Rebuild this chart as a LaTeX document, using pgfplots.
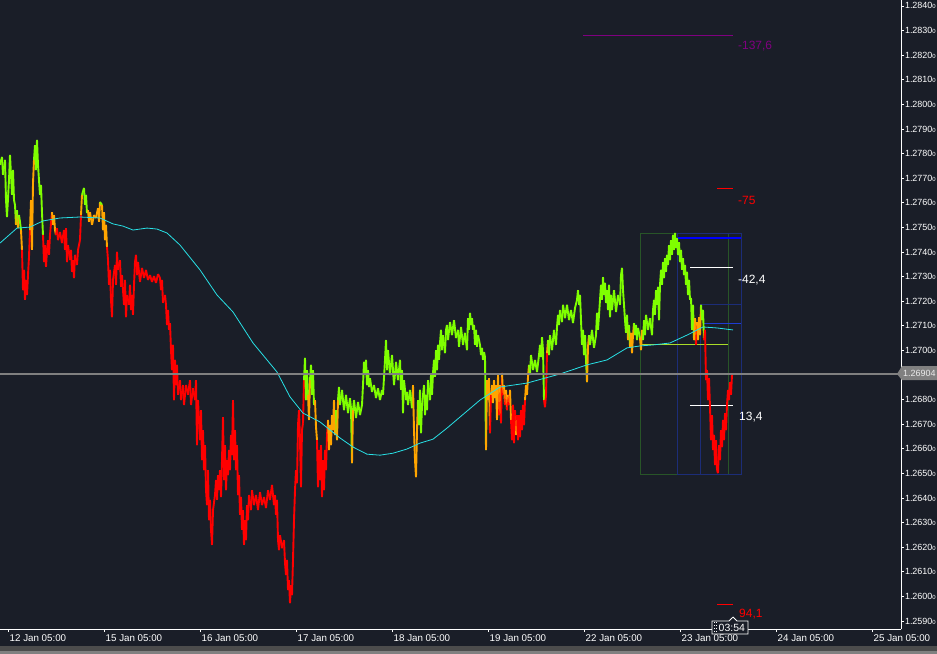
\documentclass[border=0pt]{standalone}
\usepackage{pgfplots}
\pgfplotsset{compat=1.18}
\usepackage{pgfplotstable}
\usepackage{fontspec}
\setmainfont{Liberation Sans}
\definecolor{bg}{RGB}{26,30,40}
\definecolor{mtred}{RGB}{255,0,0}
\definecolor{macyan}{RGB}{40,225,230}
\definecolor{boxgreen}{RGB}{40,85,40}
\definecolor{boxblue}{RGB}{28,45,120}
\definecolor{lineblue}{RGB}{0,0,255}
\definecolor{thinblue}{RGB}{30,60,210}
\definecolor{ygreen}{RGB}{170,220,40}
\definecolor{mtpurple}{RGB}{128,0,128}
\definecolor{pricegray}{RGB}{128,128,128}
\newcommand\pl[1]{#1{\fontsize{6}{7}\selectfont 0}}

% x = M15 bar index (1 px per bar), y = price, c = colour state (0 red, 1 orange, 2 green)
\pgfplotstableread{
x y c
0 1.27754 2
2 1.27786 2
3 1.27713 2
5 1.27774 2
6 1.27611 2
7 1.27542 2
9 1.27692 2
10 1.27794 2
11 1.27713 2
12 1.27632 2
13 1.27733 2
14 1.27611 2
15 1.27591 2
16 1.27510 1
17 1.27570 2
18 1.27497 1
19 1.27550 2
20 1.27522 2
21 1.27489 1
22 1.27408 0
23 1.27245 0
24 1.27327 0
25 1.27205 0
26 1.27286 0
27 1.27225 0
28 1.27306 0
29 1.27380 0
30 1.27489 1
31 1.27611 1
32 1.27408 1
33 1.27680 1
34 1.27774 2
35 1.27834 2
36 1.27733 2
37 1.27855 2
38 1.27754 2
39 1.27692 2
40 1.27632 2
41 1.27672 2
42 1.27558 2
43 1.27469 0
44 1.27359 0
45 1.27428 0
46 1.27339 0
47 1.27408 0
48 1.27448 0
49 1.27388 0
50 1.27469 0
52 1.27562 1
53 1.27510 1
54 1.27550 1
55 1.27489 1
56 1.27469 0
57 1.27497 0
58 1.27448 0
60 1.27481 0
62 1.27436 0
64 1.27489 0
65 1.27408 0
66 1.27497 0
67 1.27359 0
68 1.27428 0
70 1.27367 0
71 1.27408 0
72 1.27319 0
73 1.27367 0
74 1.27294 0
75 1.27388 0
77 1.27347 0
78 1.27408 0
80 1.27448 0
81 1.27550 1
82 1.27632 2
84 1.27660 2
85 1.27591 2
86 1.27632 2
87 1.27558 2
88 1.27570 1
89 1.27522 1
90 1.27562 1
92 1.27510 1
94 1.27550 1
96 1.27538 1
98 1.27578 1
99 1.27522 1
100 1.27603 2
102 1.27591 1
103 1.27489 1
104 1.27562 1
105 1.27448 1
106 1.27510 1
107 1.27420 0
108 1.27367 0
109 1.27266 0
110 1.27327 0
111 1.27205 0
112 1.27135 0
113 1.27286 0
115 1.27347 0
116 1.27266 0
117 1.27400 0
118 1.27327 0
120 1.27367 0
121 1.27258 0
122 1.27306 0
123 1.27245 0
124 1.27185 0
125 1.27286 0
126 1.27135 0
127 1.27225 0
129 1.27185 0
130 1.27266 0
131 1.27164 0
132 1.27225 0
133 1.27144 0
134 1.27266 0
135 1.27359 0
136 1.27388 0
137 1.27306 0
138 1.27359 0
140 1.27278 0
142 1.27335 0
144 1.27294 0
146 1.27327 0
148 1.27286 0
150 1.27306 0
152 1.27278 0
154 1.27302 0
156 1.27274 0
158 1.27310 0
160 1.27294 0
161 1.27245 0
162 1.27286 0
163 1.27193 0
165 1.27225 0
166 1.27185 0
167 1.27103 0
168 1.27164 0
169 1.27083 0
170 1.27111 0
171 1.27001 0
172 1.26920 0
173 1.27022 0
174 1.26798 0
175 1.26961 0
176 1.26859 0
177 1.26941 0
178 1.26819 0
180 1.26879 0
181 1.26798 0
183 1.26859 0
184 1.26778 0
186 1.26859 0
188 1.26819 0
190 1.26879 0
191 1.26778 0
193 1.26846 0
195 1.26798 0
196 1.26879 0
197 1.26615 0
198 1.26798 0
199 1.26717 0
200 1.26635 0
201 1.26757 0
202 1.26554 0
203 1.26676 0
204 1.26513 0
205 1.26615 0
206 1.26432 0
207 1.26371 0
208 1.26513 0
209 1.26310 0
210 1.26392 0
211 1.26270 0
212 1.26209 0
213 1.26351 0
215 1.26412 0
216 1.26473 0
217 1.26392 0
218 1.26493 0
219 1.26432 0
220 1.26513 0
221 1.26404 0
222 1.26554 0
223 1.26729 0
224 1.26473 0
225 1.26615 0
226 1.26432 0
227 1.26554 0
228 1.26493 0
229 1.26595 0
230 1.26513 0
231 1.26656 0
232 1.26574 0
233 1.26798 0
234 1.26554 0
235 1.26676 0
236 1.26513 0
237 1.26615 0
238 1.26412 0
239 1.26493 0
240 1.26331 0
241 1.26404 0
242 1.26270 0
243 1.26351 0
244 1.26209 0
245 1.26310 0
246 1.26229 0
247 1.26371 0
248 1.26310 0
249 1.26412 0
251 1.26351 0
252 1.26432 0
254 1.26371 0
256 1.26412 0
258 1.26351 0
260 1.26424 0
262 1.26371 0
264 1.26404 0
266 1.26359 0
268 1.26432 0
270 1.26392 0
272 1.26453 0
274 1.26371 0
275 1.26412 0
276 1.26331 0
277 1.26392 0
278 1.26229 0
279 1.26188 0
280 1.26249 0
282 1.26196 0
284 1.26229 0
285 1.26136 0
286 1.26087 0
287 1.26148 0
288 1.26026 0
289 1.26066 0
290 1.25973 0
291 1.26046 0
292 1.26005 0
293 1.26148 0
294 1.26310 0
295 1.26432 0
296 1.26513 0
297 1.26460 0
298 1.26696 0
299 1.26757 0
300 1.26635 0
301 1.26444 0
302 1.26676 0
303 1.26704 0
304 1.26879 2
305 1.26969 2
306 1.26798 2
307 1.26920 2
308 1.26819 1
309 1.26717 1
310 1.26879 2
311 1.26941 2
312 1.26819 2
313 1.26920 2
314 1.26778 2
315 1.26798 1
316 1.26688 1
317 1.26635 0
318 1.26444 0
319 1.26595 0
320 1.26473 0
321 1.26615 0
322 1.26404 0
323 1.26554 0
324 1.26432 0
325 1.26595 0
326 1.26513 0
327 1.26656 0
328 1.26717 1
329 1.26595 1
330 1.26696 1
331 1.26615 1
332 1.26737 1
333 1.26676 1
334 1.26798 1
335 1.26656 1
336 1.26757 2
337 1.26635 1
338 1.26798 2
339 1.26851 2
340 1.26778 2
342 1.26839 2
344 1.26757 2
346 1.26819 2
348 1.26745 2
350 1.26806 2
351 1.26765 2
352 1.26542 1
353 1.26757 2
354 1.26798 2
356 1.26725 2
358 1.26790 2
360 1.26737 2
362 1.26778 2
363 1.26859 2
364 1.26953 2
365 1.26900 2
366 1.26961 2
367 1.26859 2
368 1.26920 2
369 1.26851 2
370 1.26887 2
372 1.26831 2
374 1.26859 2
376 1.26806 2
378 1.26846 2
380 1.26798 2
382 1.26839 2
383 1.26819 2
385 1.26961 2
386 1.27042 2
387 1.26920 2
388 1.27001 2
390 1.26900 2
392 1.26981 2
394 1.26859 2
396 1.26953 2
398 1.26879 2
400 1.26961 2
401 1.26839 2
402 1.26920 2
403 1.26745 2
404 1.26879 2
406 1.26798 2
407 1.26831 2
408 1.26778 2
410 1.26839 2
412 1.26765 2
413 1.26859 1
414 1.26676 1
415 1.26554 1
416 1.26485 1
417 1.26676 1
418 1.26798 2
419 1.26696 2
420 1.26839 2
421 1.26664 2
422 1.26778 2
424 1.26859 2
425 1.26737 2
426 1.26819 2
427 1.26757 2
428 1.26879 2
430 1.26798 2
431 1.26900 2
432 1.26819 2
433 1.26908 2
434 1.26961 2
435 1.26892 2
436 1.27001 2
437 1.26920 2
438 1.27022 2
439 1.26961 2
440 1.27030 2
441 1.27083 2
442 1.27001 2
443 1.27062 2
445 1.26989 2
446 1.27083 2
447 1.27103 2
448 1.27042 2
450 1.27115 2
452 1.27062 2
454 1.27123 2
456 1.27050 2
458 1.27083 2
459 1.27014 2
461 1.27095 2
463 1.27022 2
465 1.27071 2
467 1.27001 2
468 1.27131 2
469 1.27083 2
470 1.27152 2
471 1.27103 2
472 1.27131 2
473 1.27083 2
474 1.27103 2
475 1.27022 2
476 1.27083 2
477 1.27014 2
478 1.27062 2
480 1.27022 2
481 1.26981 2
482 1.27010 2
483 1.26961 2
484 1.26993 2
485 1.26973 2
486 1.26595 1
487 1.26879 1
488 1.26798 1
489 1.26887 1
490 1.26664 0
491 1.26819 1
492 1.26859 1
493 1.26786 1
494 1.26879 1
495 1.26806 1
496 1.26859 1
497 1.26717 1
498 1.26900 1
499 1.26737 0
500 1.26859 1
501 1.26704 0
502 1.26908 1
503 1.26819 0
504 1.26859 1
505 1.26778 0
506 1.26839 1
507 1.26757 0
508 1.26819 1
509 1.26778 0
510 1.26839 1
511 1.26717 0
512 1.26635 0
513 1.26778 0
514 1.26623 0
515 1.26757 0
516 1.26656 1
517 1.26737 0
518 1.26635 0
519 1.26737 0
520 1.26647 0
521 1.26757 0
522 1.26676 0
523 1.26778 0
524 1.26696 0
525 1.26798 1
526 1.26859 1
527 1.26819 1
528 1.26892 1
529 1.26941 2
530 1.26900 2
531 1.26981 2
533 1.26920 2
535 1.26961 2
537 1.26912 2
539 1.26981 2
540 1.27022 2
541 1.26973 2
542 1.27054 2
543 1.27001 2
544 1.26798 0
545 1.26769 0
546 1.26819 0
547 1.26989 1
548 1.27042 2
549 1.26981 2
550 1.27062 2
552 1.27001 2
554 1.27083 2
556 1.27022 2
557 1.27095 2
558 1.27144 2
559 1.27103 2
560 1.27164 2
562 1.27115 2
563 1.27185 2
565 1.27131 2
567 1.27185 2
569 1.27123 2
571 1.27164 2
573 1.27111 2
575 1.27172 2
577 1.27205 2
578 1.27245 2
579 1.27185 2
580 1.27225 2
581 1.27123 2
582 1.27022 2
583 1.27083 2
584 1.26981 2
585 1.27062 2
586 1.26961 2
587 1.26871 1
588 1.27014 1
589 1.27062 2
590 1.27022 2
592 1.27083 2
594 1.27010 2
596 1.27062 2
597 1.27152 2
598 1.27083 2
599 1.27144 2
600 1.27205 2
601 1.27266 2
602 1.27205 2
603 1.27298 2
604 1.27225 2
605 1.27274 2
606 1.27193 2
607 1.27245 2
608 1.27164 2
609 1.27266 2
610 1.27135 2
611 1.27225 2
612 1.27164 2
614 1.27245 2
616 1.27156 2
618 1.27225 2
620 1.27185 2
621 1.27306 2
622 1.27335 2
623 1.27245 2
624 1.27185 2
625 1.27123 2
626 1.27071 2
627 1.27144 2
628 1.27042 1
629 1.27103 2
630 1.27014 1
631 1.27071 1
632 1.26989 1
633 1.27062 1
634 1.27111 2
635 1.27062 2
636 1.27103 2
637 1.27042 2
638 1.27091 2
640 1.27050 1
641 1.27001 1
642 1.27083 1
643 1.27042 2
644 1.27123 2
645 1.27062 2
646 1.27144 2
648 1.27083 2
650 1.27131 2
652 1.27062 2
653 1.27164 2
654 1.27205 2
655 1.27144 2
656 1.27245 2
657 1.27185 2
658 1.27258 2
659 1.27123 2
660 1.27266 2
661 1.27327 2
662 1.27266 2
663 1.27359 2
664 1.27294 2
665 1.27375 2
666 1.27319 2
667 1.27388 2
668 1.27347 2
669 1.27428 2
670 1.27367 2
671 1.27448 2
672 1.27388 2
673 1.27469 2
674 1.27408 2
675 1.27477 2
676 1.27416 2
677 1.27456 2
678 1.27388 2
679 1.27440 2
680 1.27359 2
681 1.27408 2
682 1.27327 2
683 1.27375 2
684 1.27306 2
685 1.27347 2
686 1.27266 2
687 1.27319 2
688 1.27225 2
689 1.27286 2
690 1.27205 2
691 1.27213 2
692 1.27083 2
693 1.27185 2
694 1.27042 1
695 1.27131 1
696 1.27022 0
697 1.27115 1
698 1.27042 1
699 1.27135 1
700 1.27062 1
701 1.27185 2
702 1.27123 2
703 1.27164 2
704 1.27042 0
705 1.27083 0
706 1.26879 0
707 1.26920 0
708 1.26798 0
709 1.26887 0
710 1.26769 0
711 1.26635 0
712 1.26737 0
713 1.26595 0
714 1.26656 0
715 1.26534 0
716 1.26635 0
717 1.26513 0
718 1.26501 0
719 1.26615 0
720 1.26554 0
721 1.26676 0
722 1.26607 0
723 1.26717 0
724 1.26635 0
725 1.26745 0
726 1.26676 0
727 1.26778 0
728 1.26839 0
729 1.26798 0
730 1.26871 0
731 1.26819 0
732 1.26900 0
733 1.26904 0
}\price

\pgfplotstableread{
x y
0 1.27436
17 1.27497
30 1.27501
43 1.27526
60 1.27538
80 1.27542
100 1.27538
113 1.27514
123 1.27505
133 1.27489
147 1.27497
157 1.27493
167 1.27477
180 1.27428
200 1.27327
217 1.27225
233 1.27156
253 1.27030
277 1.26912
290 1.26811
303 1.26745
320 1.26709
340 1.26644
353 1.26607
367 1.26578
380 1.26574
393 1.26582
407 1.26599
420 1.26623
433 1.26639
447 1.26684
460 1.26729
480 1.26798
500 1.26851
527 1.26867
560 1.26904
587 1.26941
607 1.26961
627 1.27010
640 1.27018
653 1.27022
670 1.27030
687 1.27062
703 1.27095
717 1.27091
733 1.27083
}\ma

\begin{document}
\begin{tikzpicture}
\fill[bg] (0,0) rectangle (937bp,654bp);
\fill[black!70] (0,0) rectangle (937bp,8bp);
\fill[black!50] (0,0) rectangle (937bp,3bp);
\useasboundingbox (0,0) rectangle (937bp,654bp);
\begin{axis}[
  at={(0,25bp)}, anchor=south west,
  width=901bp, height=629bp, scale only axis,
  xmin=0, xmax=901, ymin=1.258675, ymax=1.28424,
  clip=false,
  axis x line*=bottom, axis y line*=right,
  axis line style={white, line width=0.9bp},
  tick align=outside, major tick length=3bp,
  tick style={white, line width=0.7bp},
  scaled y ticks=false,
  xtick={8,104,200,296,392,488,584,680,776,872},
  xticklabels={12 Jan 05:00,15 Jan 05:00,16 Jan 05:00,17 Jan 05:00,18 Jan 05:00,19 Jan 05:00,22 Jan 05:00,23 Jan 05:00,24 Jan 05:00,25 Jan 05:00},
  ytick={1.259,1.260,1.261,1.262,1.263,1.264,1.265,1.266,1.267,1.268,1.270,1.271,1.272,1.273,1.274,1.275,1.276,1.277,1.278,1.279,1.280,1.281,1.282,1.283,1.284},
  yticklabels={\pl{1.2590},\pl{1.2600},\pl{1.2610},\pl{1.2620},\pl{1.2630},\pl{1.2640},\pl{1.2650},\pl{1.2660},\pl{1.2670},\pl{1.2680},\pl{1.2700},\pl{1.2710},\pl{1.2720},\pl{1.2730},\pl{1.2740},\pl{1.2750},\pl{1.2760},\pl{1.2770},\pl{1.2780},\pl{1.2790},\pl{1.2800},\pl{1.2810},\pl{1.2820},\pl{1.2830},\pl{1.2840}},
  ticklabel style={text=white, font=\fontsize{9.8}{10}\selectfont},
  xticklabel style={anchor=north west, inner sep=0pt, xshift=1.5bp, yshift=-2bp},
  yticklabel style={anchor=west, inner sep=0pt, xshift=0.8bp, font=\fontsize{9}{10}\selectfont},
  colormap={mt}{rgb255=(255,0,0) rgb255=(255,165,0) rgb255=(127,255,0)},
  colormap access=direct,
]
% boxes and levels
\addplot[boxgreen, line width=0.8bp] coordinates {(640,1.27477) (728,1.27477) (728,1.26497) (640,1.26497) (640,1.27477)};
\addplot[boxblue, line width=0.8bp] coordinates {(677,1.27477) (741,1.27477) (741,1.26497) (677,1.26497) (677,1.27477)};
\addplot[boxblue, line width=0.8bp] coordinates {(700,1.27188) (741,1.27188) (741,1.26497) (700,1.26497) (700,1.27188)};
\addplot[lineblue, line width=1.8bp] coordinates {(678,1.27456) (741,1.27456)};
\addplot[thinblue, line width=0.9bp] coordinates {(703,1.27111) (741,1.27111)};
\addplot[ygreen, line width=0.9bp] coordinates {(640,1.27022) (728,1.27022)};
\addplot[mtpurple, line width=0.8bp] coordinates {(583,1.28282) (733,1.28282)};
\addplot[mtred, line width=1bp] coordinates {(717,1.27659) (733,1.27659)};
\addplot[white, line width=1bp] coordinates {(690,1.27335) (733,1.27335)};
\addplot[white, line width=1bp] coordinates {(690,1.26774) (733,1.26774)};
\addplot[mtred, line width=1bp] coordinates {(717,1.25969) (733,1.25969)};
% price
\addplot[mesh, shader=flat corner, point meta=explicit, line width=1.9bp] table[x=x, y=y, meta=c] {\price};
% moving average
\addplot[macyan, line width=0.8bp] table[x=x, y=y] {\ma};
% current price line
\addplot[pricegray, line width=1.8bp] coordinates {(0,1.26904) (901,1.26904)};
% labels
\node[anchor=west, text=mtpurple, font=\fontsize{12}{12}\selectfont, inner sep=0pt] at (axis cs:738,1.28237) {-137,6};
\node[anchor=west, text=mtred, font=\fontsize{12}{12}\selectfont, inner sep=0pt] at (axis cs:738,1.27611) {-75};
\node[anchor=west, text=white, font=\fontsize{12}{12}\selectfont, inner sep=0pt] at (axis cs:738,1.27286) {-42,4};
\node[anchor=west, text=white, font=\fontsize{12}{12}\selectfont, inner sep=0pt] at (axis cs:739,1.26729) {13,4};
\node[anchor=west, text=mtred, font=\fontsize{12}{12}\selectfont, inner sep=0pt] at (axis cs:739,1.25928) {94,1};
% price tag
\fill[pricegray] (axis cs:897,1.26904) -- (axis cs:902,1.26936) -- (axis cs:937,1.26936) -- (axis cs:937,1.26879) -- (axis cs:902,1.26879) -- cycle;
\node[anchor=west, text=black!8, font=\fontsize{9}{10}\selectfont, inner sep=0pt] at (axis cs:903,1.26906) {1.26904};
% time box
\filldraw[fill=bg, draw=white, line width=0.8bp] (axis cs:712,1.25900) -- (axis cs:729,1.25900) -- (axis cs:733,1.25916) -- (axis cs:737,1.25900) -- (axis cs:748,1.25900) -- (axis cs:748,1.25847) -- (axis cs:712,1.25847) -- cycle;
\draw[white, dotted, line width=0.8bp] (axis cs:714.5,1.25894) -- (axis cs:714.5,1.25853);
\draw[white, dotted, line width=0.8bp] (axis cs:716.5,1.25894) -- (axis cs:716.5,1.25853);
\node[anchor=west, text=white, font=\fontsize{10.5}{11}\selectfont, inner sep=0pt] at (axis cs:718.5,1.25873) {03:54};
\end{axis}
\end{tikzpicture}
\end{document}
